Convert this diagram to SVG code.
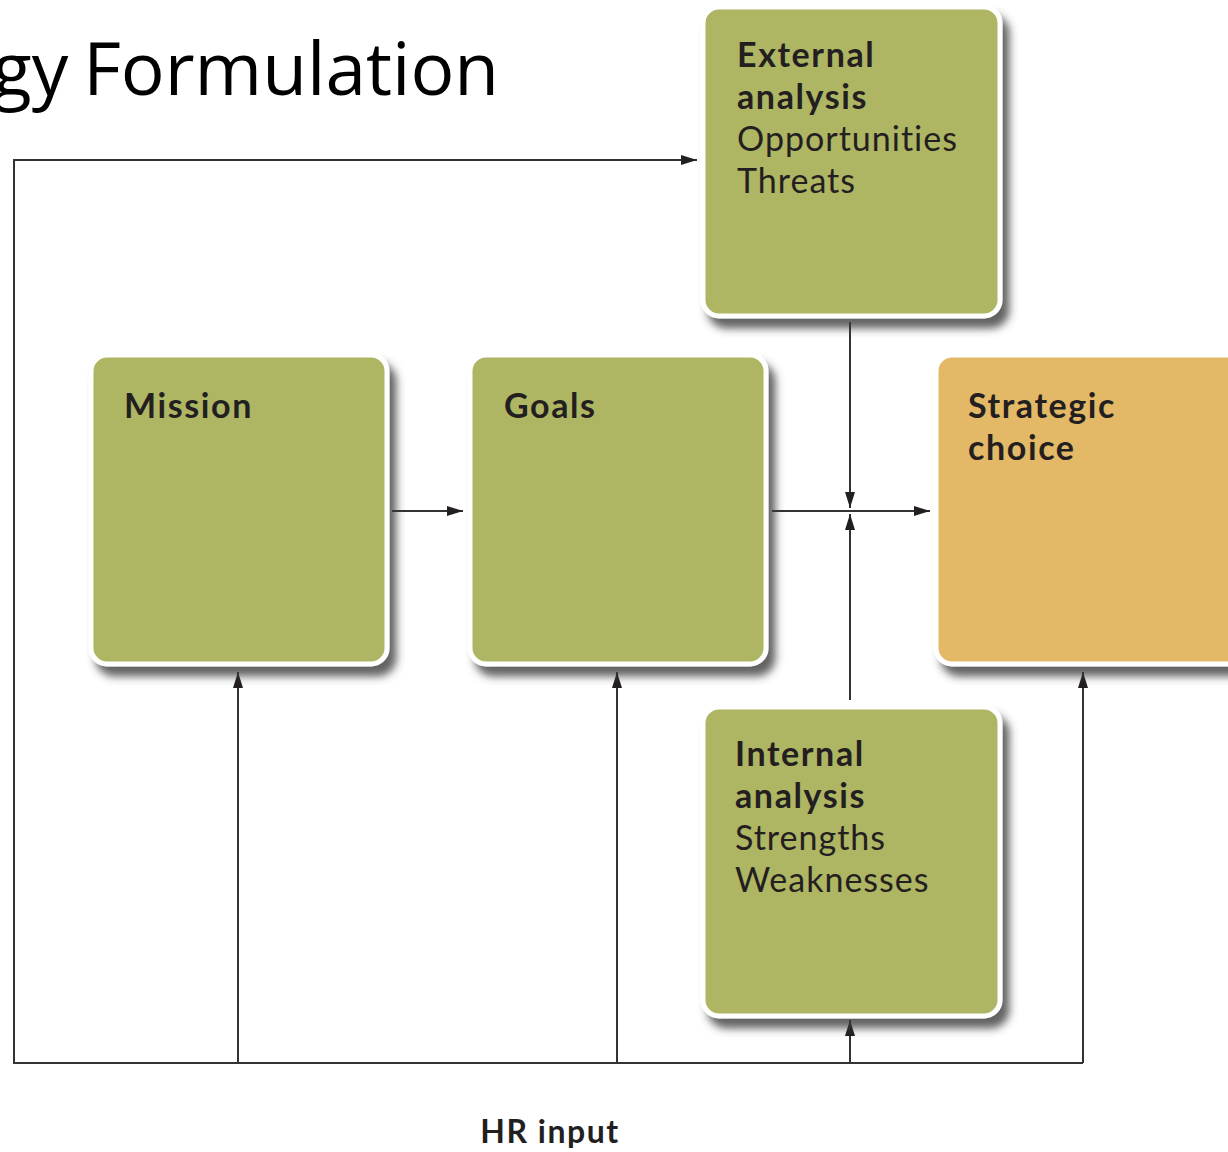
<svg xmlns="http://www.w3.org/2000/svg" width="1228" height="1152" viewBox="0 0 1228 1152">
<style>
.box{stroke:#fff;stroke-width:5;filter:url(#sh)}
.g{fill:#AEB563}
.o{fill:#E3B866}
.t{font-family:Lato,"Open Sans",sans-serif;font-size:34px;fill:#231f20;letter-spacing:1px}
.b{font-weight:bold;letter-spacing:1.6px}
.c{stroke:#333;stroke-width:2;fill:none}
</style>
<defs>
<filter id="sh" x="-10%" y="-10%" width="130%" height="130%">
<feDropShadow dx="7" dy="10" stdDeviation="4" flood-color="#3a3a3a" flood-opacity="0.8"/>
</filter>
<marker id="ah" viewBox="0 0 16 10" refX="16" refY="5" markerWidth="16" markerHeight="10" markerUnits="userSpaceOnUse" orient="auto">
<path d="M0,0 L16,5 L0,10 Z" fill="#231f20"/>
</marker>
</defs>
<rect width="1228" height="1152" fill="#fff"/>
<text x="-8" y="95" font-family="'Open Sans',sans-serif" font-size="73" word-spacing="-4" fill="#000">gy Formulation</text>
<g id="connectors">
<path class="c" d="M1083,1063 L14,1063 L14,160 L697,160" marker-end="url(#ah)"/>
<path class="c" d="M238,1063 L238,672" marker-end="url(#ah)"/>
<path class="c" d="M617,1063 L617,672" marker-end="url(#ah)"/>
<path class="c" d="M850,1063 L850,1020" marker-end="url(#ah)"/>
<path class="c" d="M1083,1063 L1083,672" marker-end="url(#ah)"/>
<path class="c" d="M392,511 L463,511" marker-end="url(#ah)"/>
<path class="c" d="M772,511 L930,511" marker-end="url(#ah)"/>
<path class="c" d="M850,322 L850,508" marker-end="url(#ah)"/>
<path class="c" d="M850,700 L850,514" marker-end="url(#ah)"/>
</g>
<g id="external">
<rect class="box g" x="703" y="7" width="297" height="309" rx="16"/>
<text class="t b" x="737" y="67">External</text>
<text class="t b" x="737" y="109">analysis</text>
<text class="t" x="737" y="151">Opportunities</text>
<text class="t" x="737" y="193">Threats</text>
</g>
<g id="mission">
<rect class="box g" x="91" y="355" width="296" height="309" rx="16"/>
<text class="t b" x="124" y="418">Mission</text>
</g>
<g id="goals">
<rect class="box g" x="470" y="355" width="296" height="309" rx="16"/>
<text class="t b" x="504" y="418">Goals</text>
</g>
<g id="strategic">
<rect class="box o" x="936" y="355" width="310" height="309" rx="16"/>
<text class="t b" x="968" y="418">Strategic</text>
<text class="t b" x="968" y="460">choice</text>
</g>
<g id="internal">
<rect class="box g" x="703" y="707" width="297" height="309" rx="16"/>
<text class="t b" x="735" y="766">Internal</text>
<text class="t b" x="735" y="808">analysis</text>
<text class="t" x="735" y="850">Strengths</text>
<text class="t" x="735" y="892">Weaknesses</text>
</g>
<text class="t b" x="550" y="1143" text-anchor="middle" style="font-size:32px;letter-spacing:1.5px">HR input</text>
</svg>
